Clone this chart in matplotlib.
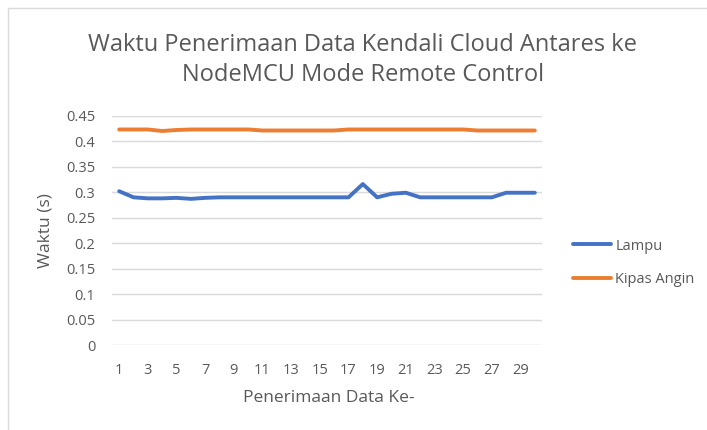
import matplotlib.pyplot as plt
from matplotlib.patches import Rectangle

plt.rcParams["font.family"] = ["Open Sans", "DejaVu Sans"]

# data
penerimaan = list(range(1, 31))
lampu = [0.302, 0.290, 0.288, 0.288, 0.289, 0.287, 0.289, 0.290, 0.290, 0.290,
         0.290, 0.290, 0.290, 0.290, 0.290, 0.290, 0.290, 0.316, 0.290, 0.297,
         0.299, 0.290, 0.290, 0.290, 0.290, 0.290, 0.290, 0.299, 0.299, 0.299]
kipas_angin = [0.423, 0.423, 0.423, 0.420, 0.422, 0.423, 0.423, 0.423, 0.423, 0.423,
               0.421, 0.421, 0.421, 0.421, 0.421, 0.421, 0.423, 0.423, 0.423, 0.423,
               0.423, 0.423, 0.423, 0.423, 0.423, 0.421, 0.421, 0.421, 0.421, 0.421]
y_ticks = [0, 0.05, 0.1, 0.15, 0.2, 0.25, 0.3, 0.35, 0.4, 0.45]
x_ticks = list(range(1, 31, 2))

text_c = "#595959"
W, H = 707, 430

fig = plt.figure(figsize=(W / 100, H / 100), dpi=100)
ax = fig.add_axes([112 / W, (H - 345.3) / H, 430 / W, 229.6 / H])

# chart area border
fig.patches.append(Rectangle((8 / W, -0.1), 1.2, 1 - 8 / H + 0.1, transform=fig.transFigure,
                             fill=False, edgecolor="#d9d9d9", linewidth=1))

ax.plot(penerimaan, lampu, color="#4472C4", lw=2.8, label="Lampu",
        solid_joinstyle="round", solid_capstyle="round")
ax.plot(penerimaan, kipas_angin, color="#ED7D31", lw=2.8, label="Kipas Angin",
        solid_joinstyle="round", solid_capstyle="round")

ax.set_xlim(0.5, 30.5)
ax.set_ylim(0, 0.45)
ax.set_yticks(y_ticks)
ax.set_yticklabels([f"{v:g}" for v in y_ticks])
ax.set_xticks(x_ticks)
ax.grid(axis="y", color="#d9d9d9", lw=1)
ax.set_axisbelow(True)
for s in ax.spines.values():
    s.set_visible(False)
ax.tick_params(length=0, labelsize=10.5, colors=text_c)
ax.tick_params(axis="x", pad=13)
ax.tick_params(axis="y", pad=12)

fig.text(46 / W, 1 - 231 / H, "Waktu (s)", rotation=90, ha="center", va="center",
         fontsize=12.5, color=text_c)
fig.text(329 / W, 1 - 398 / H, "Penerimaan Data Ke-", ha="center", va="center",
         fontsize=12.5, color=text_c)
fig.text(363 / W, 1 - 60 / H, "Waktu Penerimaan Data Kendali Cloud Antares ke\nNodeMCU Mode Remote Control",
         ha="center", va="center", fontsize=17, color=text_c, linespacing=1.3)

ax.legend(loc="center left", bbox_to_anchor=(560 / W, 1 - 263 / H), bbox_transform=fig.transFigure,
          frameon=False, fontsize=10.5, labelcolor=text_c, handlelength=2.6,
          handletextpad=0.3, labelspacing=1.3)

fig.savefig("out.png", dpi=100)
